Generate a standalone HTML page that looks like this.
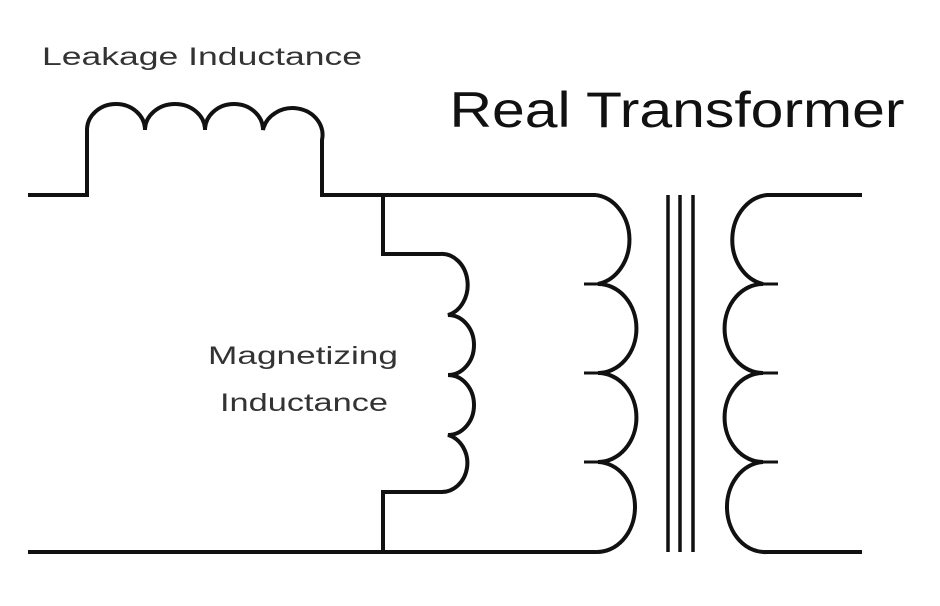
<!DOCTYPE html>
<html><head><style>body{margin:0;background:#fff}svg{display:block}</style></head>
<body>
<svg width="940" height="606" viewBox="0 0 940 606" xmlns="http://www.w3.org/2000/svg">
<g fill="none" stroke="#111" stroke-width="4" stroke-linejoin="miter">
<!-- leakage -->
<path d="M28 195 H87 V130 A29 26 0 0 1 145 130 A30 26 0 0 1 205 130 A29 26 0 0 1 263 130 A29 26 0 0 1 322 140 V195 H596"/>
<!-- magnetizing -->
<path d="M383 195 V254 H440 A26 31 0 0 1 448 315 A26 30 0 0 1 448 375 A26 30 0 0 1 448 435 A26 29 0 0 1 440 492 H383 V552"/>
<path d="M28 552 H596"/>
<!-- primary -->
<path d="M596 195 A38 45 0 0 1 598 284 A38 44 0 0 1 598 373 A38 44 0 0 1 598 462 A38 45 0 0 1 596 552"/>
<path d="M584 284 H600 M584 373 H600 M584 462 H600" stroke-width="3"/>
<!-- core -->
<path d="M668 195 V552 M680 195 V552 M693 195 V552" stroke-width="3.5"/>
<!-- secondary -->
<path d="M862 195 H767 A38 45 0 0 0 763 284 A38 44 0 0 0 763 373 A38 44 0 0 0 763 462 A38 45 0 0 0 767 552 H862"/>
<path d="M760 284 H778 M760 373 H778 M760 462 H778" stroke-width="3"/>
</g>
<g font-family="Liberation Sans, sans-serif" fill="#333">
<text x="202" y="65" font-size="25" text-anchor="middle" textLength="320" lengthAdjust="spacingAndGlyphs">Leakage Inductance</text>
<text x="677" y="127" font-size="50" fill="#111" text-anchor="middle" textLength="455" lengthAdjust="spacingAndGlyphs">Real Transformer</text>
<text x="303" y="364" font-size="25" text-anchor="middle" textLength="190" lengthAdjust="spacingAndGlyphs">Magnetizing</text>
<text x="304" y="411" font-size="25" text-anchor="middle" textLength="168" lengthAdjust="spacingAndGlyphs">Inductance</text>
</g>
</svg>
</body></html>
